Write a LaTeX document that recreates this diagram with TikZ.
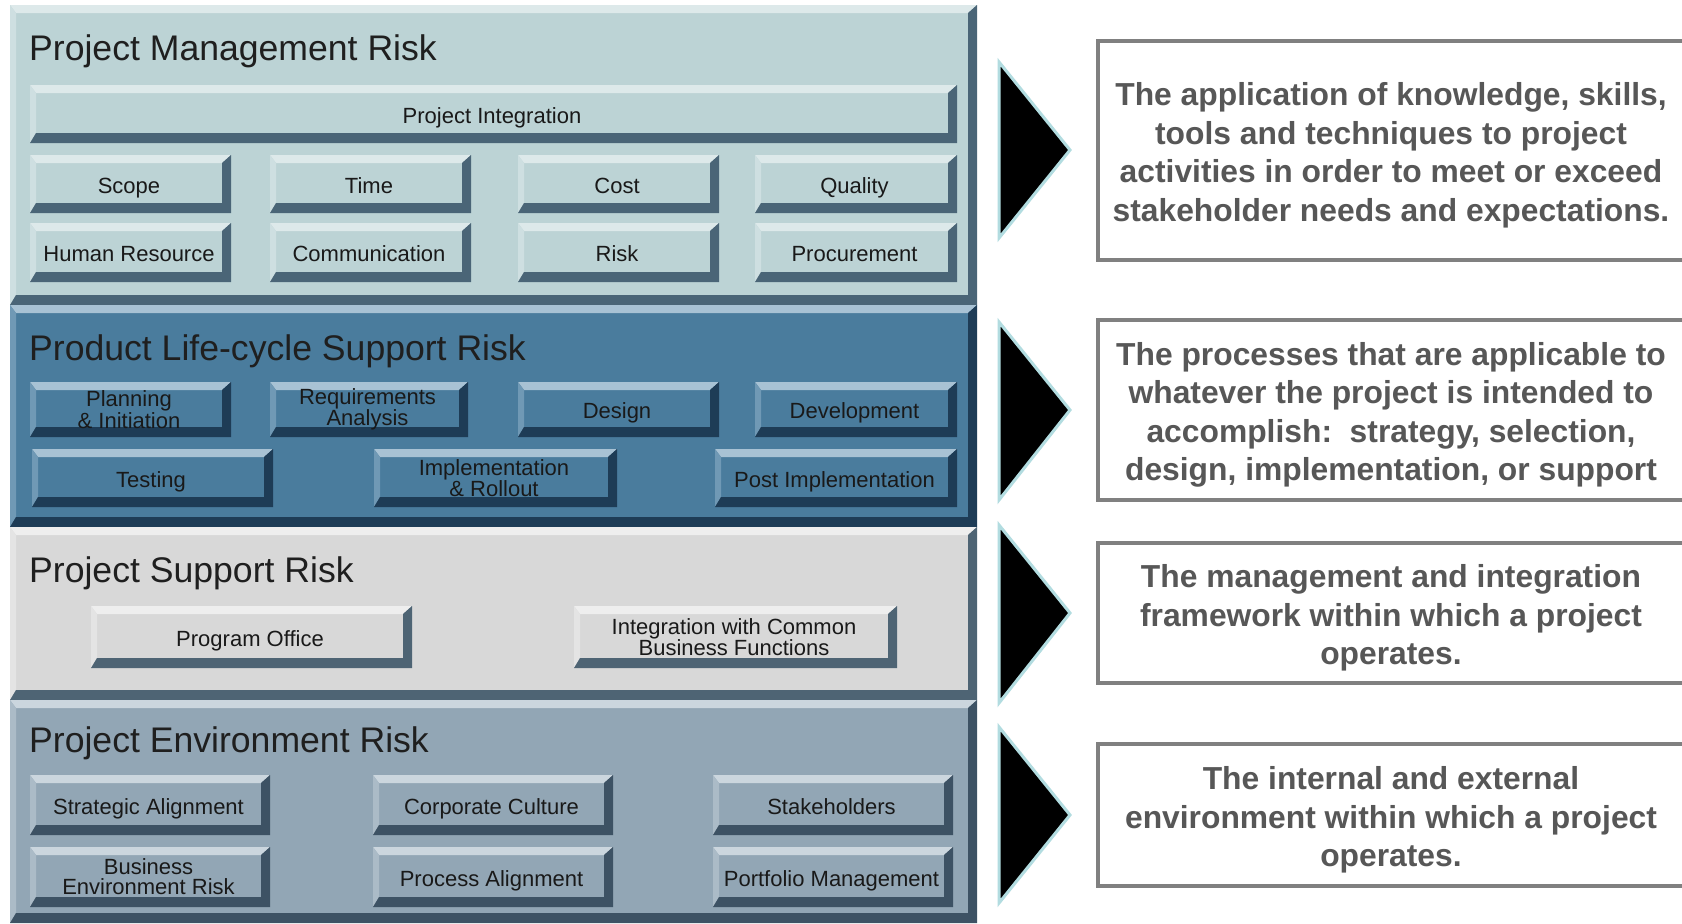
\documentclass[tikz,border=0pt]{standalone}
\usepackage{fontspec}
\setmainfont{Liberation Sans}
\definecolor{aface}{HTML}{BCD3D5}
\definecolor{atop}{HTML}{DDE9EA}
\definecolor{aleft}{HTML}{CEDFE1}
\definecolor{adark}{HTML}{4A6577}
\definecolor{bface}{HTML}{4A7C9D}
\definecolor{btop}{HTML}{A8C2D4}
\definecolor{bleft}{HTML}{7099B5}
\definecolor{bdark}{HTML}{1E3C56}
\definecolor{cface}{HTML}{D8D8D8}
\definecolor{ctop}{HTML}{EEEEEE}
\definecolor{cleft}{HTML}{E4E4E4}
\definecolor{cdark}{HTML}{4E6474}
\definecolor{dface}{HTML}{92A6B5}
\definecolor{dtop}{HTML}{CBD6DE}
\definecolor{dleft}{HTML}{ABBBC7}
\definecolor{ddark}{HTML}{3D5264}
\definecolor{tricol}{HTML}{B2DCE0}
\definecolor{boxline}{HTML}{808080}
\definecolor{desctext}{HTML}{575757}
% [#1 label placement style], #2 name, #3 x1, #4 y1, #5 x2, #6 y2, #7 theme, #8 text
\newcommand\bevbox[8][oneline]{%
  \fill[#7face] (#3,#4) rectangle (#5,#6);
  \fill[#7top] (#3,#4) -- (#5,#4) -- ({#5-9},{#4+8}) -- ({#3+6},{#4+8}) -- cycle;
  \fill[#7left] (#3,#4) -- ({#3+6},{#4+8}) -- ({#3+6},{#6-10}) -- (#3,#6) -- cycle;
  \fill[#7dark] (#3,#6) -- (#5,#6) -- (#5,#4) -- ({#5-9},{#4+8}) -- ({#5-9},{#6-10}) -- ({#3+6},{#6-10}) -- cycle;
  \node[btntext,#1] (#2) at ({(#3+#5)/2-1.5},{(#4+#6)/2}) {#8};
}
\tikzset{
  paneltitle/.style={anchor=base west, inner sep=0, font=\fontsize{35.6}{40}\selectfont, text=black!88},
  btntext/.style={align=center, inner sep=0, font=\fontsize{22}{20}\selectfont, text=black!90},
  oneline/.style={anchor=base, yshift=-9pt},
  twoline/.style={anchor=center},
  descbox/.style={draw=boxline, line width=4, fill=white, inner sep=0, minimum width=588},
  desc/.style={align=center, text=desctext, inner sep=0,
    font=\bfseries\fontsize{31.8}{38.5}\selectfont},
  tri/.style={fill=black, draw=tricol, line width=3, line join=miter}
}
\begin{document}
\begin{tikzpicture}[x=1pt,y=-1pt]
\useasboundingbox (0,0) rectangle (1682,924);
\clip (0,0) rectangle (1682,924);
\fill[white] (0,0) rectangle (1682,924);
% ---------- Panel 1 ----------
\bevbox{p1}{10}{5}{977}{305}{a}{}
\node[paneltitle] (t1) at (29,60) {Project Management Risk};
\bevbox{pi}{30}{85}{957}{143}{a}{Project Integration}
\bevbox{scope}{30}{155}{231}{213}{a}{Scope}
\bevbox{time}{270}{155}{471}{213}{a}{Time}
\bevbox{cost}{518}{155}{719}{213}{a}{Cost}
\bevbox{quality}{755}{155}{957}{213}{a}{Quality}
\bevbox{hr}{30}{223}{231}{282}{a}{Human Resource}
\bevbox{comm}{270}{223}{471}{282}{a}{Communication}
\bevbox{risk}{518}{223}{719}{282}{a}{Risk}
\bevbox{proc}{755}{223}{957}{282}{a}{Procurement}
% ---------- Panel 2 ----------
\bevbox{p2}{10}{305}{977}{527}{b}{}
\node[paneltitle] (t2) at (29,360) {Product Life-cycle Support Risk};
\bevbox[twoline]{plan}{30}{382}{231}{437}{b}{Planning\\\& Initiation}
\bevbox[twoline]{req}{270}{382}{468}{437}{b}{Requirements\\Analysis}
\bevbox{design}{518}{382}{719}{437}{b}{Design}
\bevbox{dev}{755}{382}{957}{437}{b}{Development}
\bevbox{test}{32}{449}{273}{507}{b}{Testing}
\bevbox[twoline]{impl}{374}{449}{617}{507}{b}{Implementation\\\& Rollout}
\bevbox{post}{715}{449}{957}{507}{b}{Post Implementation}
% ---------- Panel 3 ----------
\bevbox{p3}{10}{527}{977}{700}{c}{}
\node[paneltitle] (t3) at (29,582) {Project Support Risk};
\bevbox{po}{91}{606}{412}{668}{c}{Program Office}
\bevbox[twoline]{icbf}{574}{606}{897}{668}{c}{Integration with Common\\Business Functions}
% ---------- Panel 4 ----------
\bevbox{p4}{10}{700}{977}{923}{d}{}
\node[paneltitle] (t4) at (29,752) {Project Environment Risk};
\bevbox{sa}{30}{775}{270}{835}{d}{Strategic Alignment}
\bevbox{cc}{373}{775}{613}{835}{d}{Corporate Culture}
\bevbox{sh}{713}{775}{953}{835}{d}{Stakeholders}
\bevbox[twoline]{ber}{30}{847}{270}{907}{d}{Business\\Environment Risk}
\bevbox{pa}{373}{847}{613}{907}{d}{Process Alignment}
\bevbox{pm}{713}{847}{953}{907}{d}{Portfolio Management}
% ---------- Triangles ----------
\draw[tri] (999,62) -- (1070,150) -- (999,238) -- cycle;
\draw[tri] (999,322) -- (1070,410) -- (999,500) -- cycle;
\draw[tri] (999,525) -- (1070,613) -- (999,703) -- cycle;
\draw[tri] (999,727) -- (1070,815) -- (999,903) -- cycle;
% ---------- Descriptions ----------
\node[descbox, minimum height=219] (b1) at (1392,150.5) {};
\node[desc] (d1) at (1391,155.5)
  {The application of knowledge, skills,\\tools and techniques to project\\activities in order to meet or exceed\\stakeholder needs and expectations.};
\node[descbox, minimum height=180] (b2) at (1392,410) {};
\node[desc] (d2) at (1391,415)
  {The processes that are applicable to\\whatever the project is intended to\\accomplish:\ \ strategy, selection,\\design, implementation, or support};
\node[descbox, minimum height=140] (b3) at (1392,613) {};
\node[desc] (d3) at (1391,618)
  {The management and integration\\framework within which a project\\operates.};
\node[descbox, minimum height=142] (b4) at (1392,815) {};
\node[desc] (d4) at (1391,820)
  {The internal and external\\environment within which a project\\operates.};
\end{tikzpicture}
\end{document}
